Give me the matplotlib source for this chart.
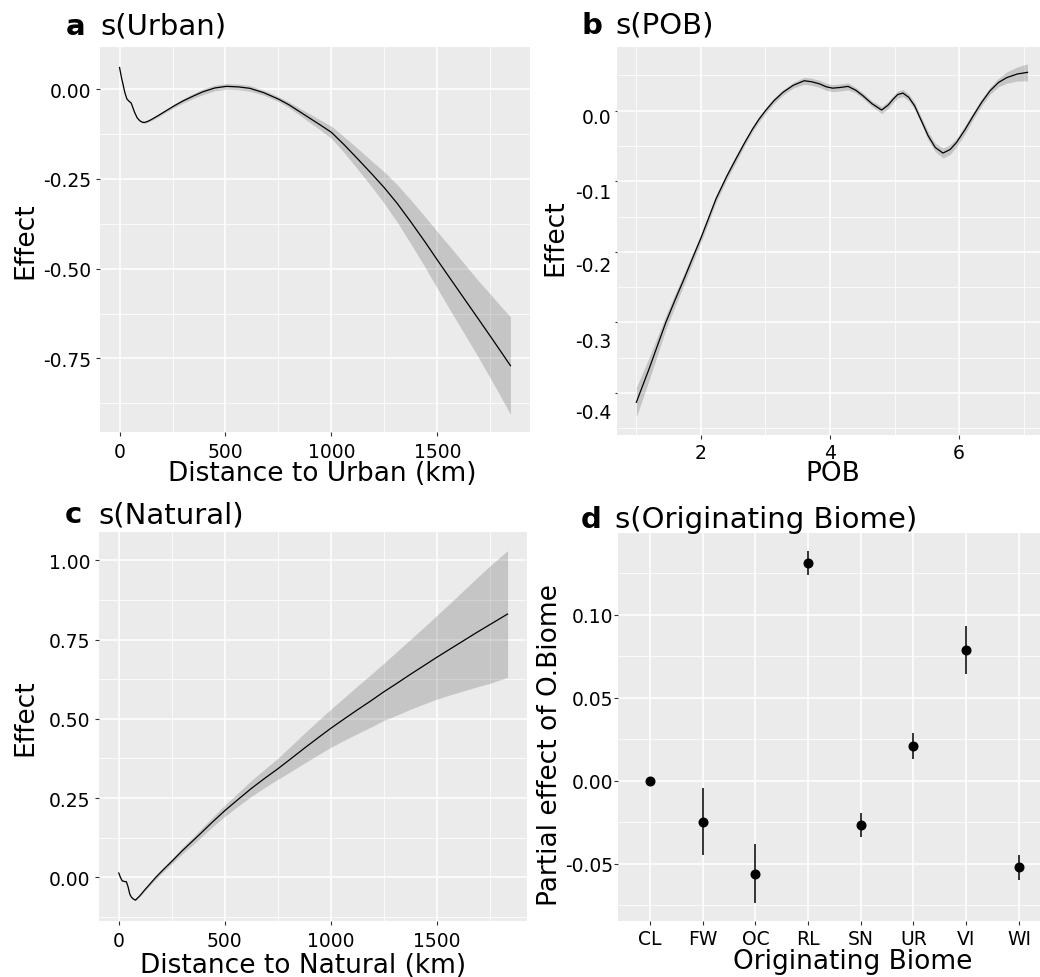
import matplotlib
matplotlib.use("Agg")
import matplotlib.pyplot as plt
import matplotlib.transforms as mtransforms
from matplotlib.ticker import FixedLocator
import numpy as np

plt.rcParams["font.family"] = ["DejaVu Sans"]
plt.rcParams["axes.unicode_minus"] = False

# ---- s(Urban): smooth of distance to urban land ----
urban_km = [0, 8, 16, 25, 35, 45, 55, 63, 71, 83, 95, 106, 118, 133, 150, 185,
            221, 260, 300, 350, 394, 450, 505, 560, 615, 680, 750, 800, 850,
            900, 950, 1000, 1060, 1125, 1190, 1250, 1310, 1375, 1440, 1500,
            1560, 1625, 1690, 1750, 1800, 1845]
urban_fit = [0.060, 0.035, 0.014, -0.010, -0.028, -0.034, -0.039, -0.052,
             -0.065, -0.080, -0.088, -0.092, -0.093, -0.090, -0.085, -0.073,
             -0.060, -0.046, -0.033, -0.019, -0.0075, 0.003, 0.0075, 0.006,
             0.002, -0.010, -0.028, -0.044, -0.063, -0.082, -0.101, -0.1205,
             -0.155, -0.195, -0.236, -0.275, -0.318, -0.370, -0.424, -0.476,
             -0.527, -0.582, -0.637, -0.688, -0.731, -0.770]
urban_se = [0.002, 0.002, 0.002, 0.002, 0.002, 0.002, 0.002, 0.002, 0.002,
            0.002, 0.002, 0.003, 0.003, 0.003, 0.003, 0.004, 0.004, 0.005,
            0.006, 0.007, 0.008, 0.008, 0.008, 0.008, 0.008, 0.007, 0.007,
            0.008, 0.010, 0.012, 0.014, 0.017, 0.022, 0.029, 0.036, 0.044,
            0.052, 0.061, 0.070, 0.079, 0.088, 0.097, 0.106, 0.117, 0.126,
            0.136]

# ---- s(POB) ----
pob = [1.0, 1.2, 1.456, 1.6, 1.74, 1.87, 2.0, 2.12, 2.233, 2.4, 2.544, 2.68,
       2.80, 2.9, 3.0, 3.13, 3.27, 3.43, 3.60, 3.72, 3.84, 3.94, 4.04, 4.16,
       4.28, 4.40, 4.51, 4.65, 4.80, 4.90, 4.98, 5.05, 5.13, 5.22, 5.31, 5.42,
       5.52, 5.63, 5.75, 5.86, 5.96, 6.09, 6.22, 6.35, 6.48, 6.61, 6.74, 6.90,
       7.06]
pob_fit = [-0.413, -0.365, -0.300, -0.268, -0.238, -0.209, -0.1805, -0.152,
           -0.125, -0.093, -0.068, -0.045, -0.026, -0.012, 0.0, 0.014, 0.026,
           0.036, 0.0425, 0.041, 0.038, 0.034, 0.032, 0.033, 0.0345, 0.029,
           0.0213, 0.010, 0.001, 0.008, 0.0166, 0.023, 0.025, 0.019, 0.0071,
           -0.015, -0.0354, -0.052, -0.060, -0.055, -0.045, -0.027, -0.007,
           0.012, 0.0283, 0.040, 0.047, 0.052, 0.0544]
pob_se = [0.021, 0.016, 0.010, 0.009, 0.008, 0.007, 0.006, 0.006, 0.005,
          0.005, 0.005, 0.004, 0.004, 0.004, 0.004, 0.004, 0.004, 0.004,
          0.005, 0.005, 0.005, 0.005, 0.005, 0.005, 0.005, 0.004, 0.004,
          0.004, 0.005, 0.005, 0.005, 0.005, 0.005, 0.005, 0.005, 0.005,
          0.006, 0.006, 0.007, 0.007, 0.006, 0.006, 0.005, 0.005, 0.005,
          0.006, 0.008, 0.010, 0.012]

# ---- s(Natural): smooth of distance to natural land ----
natural_km = [0, 8, 16, 26, 36, 44, 52, 60, 68, 79, 100, 125, 150, 175, 210,
              250, 300, 375, 440, 500, 560, 625, 690, 750, 810, 875, 940, 1000,
              1060, 1125, 1190, 1250, 1310, 1375, 1440, 1500, 1560, 1625, 1690,
              1750, 1835]
natural_fit = [0.0136, 0.0, -0.011, -0.013, -0.014, -0.030, -0.053, -0.063,
               -0.068, -0.072, -0.058, -0.038, -0.019, 0.0, 0.024, 0.05, 0.084,
               0.131, 0.173, 0.21, 0.244, 0.28, 0.313, 0.342, 0.373, 0.407,
               0.440, 0.47, 0.498, 0.528, 0.557, 0.585, 0.611, 0.640, 0.668,
               0.694, 0.719, 0.746, 0.773, 0.797, 0.831]
natural_se = [0.002, 0.002, 0.002, 0.002, 0.002, 0.002, 0.002, 0.002, 0.002,
              0.002, 0.003, 0.004, 0.005, 0.006, 0.007, 0.008, 0.010, 0.013,
              0.015, 0.018, 0.021, 0.025, 0.029, 0.033, 0.040, 0.047, 0.054,
              0.060, 0.067, 0.075, 0.083, 0.090, 0.100, 0.110, 0.121, 0.132,
              0.144, 0.158, 0.172, 0.185, 0.200]

# ---- Originating biome (parametric term) ----
biomes = ["CL", "FW", "OC", "RL", "SN", "UR", "VI", "WI"]
biome_est = [0.0, -0.0247, -0.0562, 0.1312, -0.0267, 0.0207, 0.0785, -0.0522]
biome_lo = [0.0, -0.0446, -0.0739, 0.1239, -0.0337, 0.0131, 0.0643, -0.0598]
biome_hi = [0.0, -0.0046, -0.0381, 0.1384, -0.0197, 0.0287, 0.0932, -0.0446]

W, H = 1040, 978
fig = plt.figure(figsize=(W / 100, H / 100), dpi=100)
fig.patch.set_facecolor("white")

PANEL_BG = "#EBEBEB"
TICK_COLOR = "#333333"
TICK_FS = 13.5
LABEL_FS = 19
TITLE_FS = 21


def add_axes_px(left, top, right, bottom):
    return fig.add_axes([left / W, 1 - bottom / H, (right - left) / W,
                         (bottom - top) / H])


def fx(x):
    return x / W


def fy(y):
    return 1 - y / H


def style(ax, xpad, ypad, ylen=2.9):
    ax.set_facecolor(PANEL_BG)
    for s in ax.spines.values():
        s.set_visible(False)
    ax.set_axisbelow(True)
    ax.grid(True, which="major", color="white", lw=1.1)
    ax.grid(True, which="minor", color="white", lw=0.55)
    ax.tick_params(which="minor", length=0)
    ax.tick_params(axis="x", which="major", length=2.9, width=0.8,
                   color=TICK_COLOR, labelsize=TICK_FS, labelcolor="black",
                   pad=xpad)
    ax.tick_params(axis="y", which="major", length=ylen, width=0.8,
                   color=TICK_COLOR, labelsize=TICK_FS, labelcolor="black",
                   pad=ypad)


def smooth_panel(ax, x, fit, se):
    x = np.asarray(x)
    fit = np.asarray(fit)
    se = np.asarray(se)
    ax.fill_between(x, fit - se, fit + se, color="black", alpha=0.16, lw=0,
                    zorder=2)
    ax.plot(x, fit, color="black", lw=0.9, zorder=3, solid_joinstyle="round")


def title(xl, xt, base, letter, text):
    fig.text(fx(xl), fy(base), letter, fontsize=TITLE_FS, fontweight="bold",
             ha="left", va="baseline")
    fig.text(fx(xt), fy(base), text, fontsize=TITLE_FS, ha="left",
             va="baseline")


def xlab(xc, base, text):
    fig.text(fx(xc), fy(base), text, fontsize=LABEL_FS, ha="center",
             va="baseline")


def ylab(xc, yc, text):
    fig.text(fx(xc), fy(yc), text, fontsize=LABEL_FS, ha="center",
             va="center", rotation=90, rotation_mode="anchor")


# ---------------- panel a ----------------
ax_a = add_axes_px(100, 48, 530, 433.3)
style(ax_a, xpad=4.2, ypad=3.1)
smooth_panel(ax_a, urban_km, urban_fit, urban_se)
ax_a.set_xlim(-92.25, 1937.25)
ax_a.set_ylim(-0.9555, 0.117)
ax_a.xaxis.set_major_locator(FixedLocator([0, 500, 1000, 1500]))
ax_a.xaxis.set_minor_locator(FixedLocator([250, 750, 1250, 1750]))
ax_a.yaxis.set_major_locator(FixedLocator([-0.75, -0.5, -0.25, 0.0]))
ax_a.yaxis.set_minor_locator(FixedLocator([-0.875, -0.625, -0.375, -0.125, 0.125]))
ax_a.set_yticklabels(["-0.75", "-0.50", "-0.25", "0.00"])
ax_a.set_xticklabels(["0", "500", "1000", "1500"])
title(65.5, 100.5, 35, "a", "s(Urban)")
xlab(322, 481, "Distance to Urban (km)")
ylab(25, 240.7, "Effect")

# ---------------- panel b ----------------
ax_b = add_axes_px(617, 48, 1043, 435.7)
style(ax_b, xpad=3.0, ypad=3.0, ylen=1.2)
smooth_panel(ax_b, pob, pob_fit, pob_se)
ax_b.set_xlim(0.7, 7.3)
ax_b.set_ylim(-0.459, 0.0903)
ax_b.xaxis.set_major_locator(FixedLocator([2, 4, 6]))
ax_b.xaxis.set_minor_locator(FixedLocator([1, 3, 5, 7]))
b_ticks = [0.0, -0.1, -0.2, -0.3, -0.4]
b_label_drop_px = [4.3, 9.4, 11.3, 16.7, 17.7]
ax_b.yaxis.set_major_locator(FixedLocator(b_ticks))
ax_b.yaxis.set_minor_locator(FixedLocator([0.05, -0.05, -0.15, -0.25, -0.35, -0.45]))
ax_b.set_yticklabels([])
ax_b.set_xticklabels(["2", "4", "6"])
for v, drop in zip(b_ticks, b_label_drop_px):
    tr = mtransforms.offset_copy(ax_b.get_yaxis_transform(), fig=fig,
                                 x=-5.3, y=-drop, units="dots")
    ax_b.text(0, v, f"{v:.1f}", transform=tr, ha="right",
              va="center_baseline", fontsize=TICK_FS, color="black")
title(581, 615, 33.5, "b", "s(POB)")
xlab(833, 481, "POB")
ylab(555, 238, "Effect")

# ---------------- panel c ----------------
ax_c = add_axes_px(99.3, 533.3, 527, 921.7)
style(ax_c, xpad=4.2, ypad=3.6)
smooth_panel(ax_c, natural_km, natural_fit, natural_se)
ax_c.set_xlim(-91.75, 1926.75)
ax_c.set_ylim(-0.137, 1.089)
ax_c.xaxis.set_major_locator(FixedLocator([0, 500, 1000, 1500]))
ax_c.xaxis.set_minor_locator(FixedLocator([250, 750, 1250, 1750]))
ax_c.yaxis.set_major_locator(FixedLocator([0.0, 0.25, 0.5, 0.75, 1.0]))
ax_c.yaxis.set_minor_locator(FixedLocator([-0.125, 0.125, 0.375, 0.625, 0.875]))
ax_c.set_yticklabels(["0.00", "0.25", "0.50", "0.75", "1.00"])
ax_c.set_xticklabels(["0", "500", "1000", "1500"])
title(65, 98.5, 523.3, "c", "s(Natural)")
xlab(303, 973, "Distance to Natural (km)")
ylab(25, 718, "Effect")

# ---------------- panel d ----------------
ax_d = add_axes_px(618.4, 534, 1050.5, 921.7)
style(ax_d, xpad=3.0, ypad=0.5)
pos = np.arange(len(biomes))
ax_d.vlines(pos, biome_lo, biome_hi, color="black", lw=1.1, zorder=3)
ax_d.plot(pos, biome_est, "o", color="black", ms=6.2, zorder=4)
ax_d.set_xlim(-0.6, len(biomes) - 1 + 0.6)
ax_d.set_ylim(-0.0843, 0.1492)
ax_d.set_xticks(pos)
ax_d.set_xticklabels(biomes)
ax_d.yaxis.set_major_locator(FixedLocator([-0.05, 0.0, 0.05, 0.10]))
ax_d.yaxis.set_minor_locator(FixedLocator([-0.075, -0.025, 0.025, 0.075, 0.125]))
ax_d.set_yticklabels(["-0.05", "0.00", "0.05", "0.10"])
title(581, 615, 528.3, "d", "s(Originating Biome)")
xlab(852.5, 969.5, "Originating Biome")
ylab(550, 745, "Partial effect of O.Biome")

fig.savefig("out.png", dpi=100, facecolor="white")
